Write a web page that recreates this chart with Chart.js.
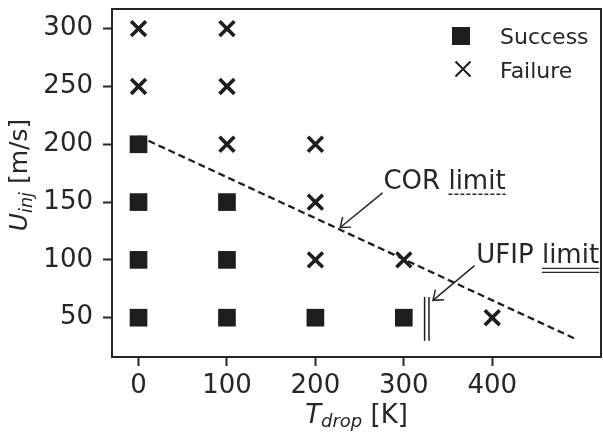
<!DOCTYPE html>
<html><head><meta charset="utf-8">
<script src="https://cdn.jsdelivr.net/npm/chart.js@4/dist/chart.umd.min.js"></script>
<style>html,body{margin:0;padding:0;background:#fff}#wrap{width:603px;height:432px;position:relative}</style>
</head><body><div id="wrap"><canvas id="c" width="603" height="432"></canvas></div>
<script>
// ---- data ----
const xTicks = [0, 100, 200, 300, 400];
const yTicks = [50, 100, 150, 200, 250, 300];
const successT = [0, 0, 0, 0, 100, 100, 100, 200, 300];
const successU = [200, 150, 100, 50, 150, 100, 50, 50, 50];
const failureT = [0, 0, 100, 100, 100, 200, 200, 200, 300, 400];
const failureU = [300, 250, 300, 250, 200, 200, 150, 100, 100, 50];
const corLimitT = [0, 496];
const corLimitU = [207, 31];
const ufipLimitT = [323.5, 328.5];
const ufipLimitU = [30, 68];
const corArrowT = [276, 228];
const corArrowU = [158, 128];
const ufipArrowT = [380, 333];
const ufipArrowU = [95, 65];
const corLabelAt = [277, 161];
const ufipLabelAt = [382, 97];
const legendLabels = ['Success', 'Failure'];

const INK = '#1e1e1e';
const TXT = '#262626';
const FF = "'DejaVu Sans'";
const zip = (xs, ys) => xs.map((x, i) => ({x: x, y: ys[i]}));

function arrow(ctx, x0, y0, x1, y1) {
  ctx.beginPath(); ctx.moveTo(x0, y0); ctx.lineTo(x1, y1); ctx.stroke();
  const a = Math.atan2(y0 - y1, x0 - x1), L = 11, h = 0.65;
  ctx.beginPath();
  ctx.moveTo(x1 + L * Math.cos(a - h), y1 + L * Math.sin(a - h));
  ctx.lineTo(x1, y1);
  ctx.lineTo(x1 + L * Math.cos(a + h), y1 + L * Math.sin(a + h));
  ctx.stroke();
}

const decor = {
  id: 'decor',
  afterDatasetsDraw(chart) {
    const ctx = chart.ctx, ca = chart.chartArea;
    const xs = chart.scales.x, ys = chart.scales.y;
    ctx.save();
    // frame
    ctx.strokeStyle = TXT; ctx.lineWidth = 2;
    ctx.strokeRect(ca.left, ca.top, ca.right - ca.left, ca.bottom - ca.top);

    // legend
    ctx.fillStyle = INK;
    ctx.fillRect(ca.right - 149, 27, 18, 18);
    ctx.strokeStyle = INK; ctx.lineWidth = 2;
    ctx.beginPath();
    ctx.moveTo(ca.right - 145.5, 61.5); ctx.lineTo(ca.right - 130.5, 76.5);
    ctx.moveTo(ca.right - 130.5, 61.5); ctx.lineTo(ca.right - 145.5, 76.5);
    ctx.stroke();
    ctx.fillStyle = TXT; ctx.font = '22px ' + FF; ctx.textAlign = 'left'; ctx.textBaseline = 'alphabetic';
    ctx.fillText(legendLabels[0], ca.right - 101, 43.5);
    ctx.fillText(legendLabels[1], ca.right - 101, 77.5);

    // annotations
    ctx.font = '26px ' + FF;
    ctx.strokeStyle = TXT; ctx.lineWidth = 1.5;
    // COR
    let tx = xs.getPixelForValue(corLabelAt[0]), ty = ys.getPixelForValue(corLabelAt[1]);
    ctx.fillText('COR limit', tx, ty);
    let w0 = ctx.measureText('COR ').width, w1 = ctx.measureText('COR limit').width;
    ctx.setLineDash([4, 2]);
    ctx.beginPath(); ctx.moveTo(tx + w0, ty + 5); ctx.lineTo(tx + w1, ty + 5); ctx.stroke();
    ctx.setLineDash([]);
    arrow(ctx, xs.getPixelForValue(corArrowT[0]), ys.getPixelForValue(corArrowU[0]),
               xs.getPixelForValue(corArrowT[1]), ys.getPixelForValue(corArrowU[1]));
    // UFIP
    tx = xs.getPixelForValue(ufipLabelAt[0]); ty = ys.getPixelForValue(ufipLabelAt[1]);
    ctx.fillText('UFIP limit', tx, ty);
    w0 = ctx.measureText('UFIP ').width; w1 = ctx.measureText('UFIP limit').width;
    ctx.lineWidth = 1.2;
    ctx.beginPath();
    ctx.moveTo(tx + w0, ty + 5); ctx.lineTo(tx + w1, ty + 5);
    ctx.moveTo(tx + w0, ty + 9); ctx.lineTo(tx + w1, ty + 9);
    ctx.stroke();
    ctx.lineWidth = 1.5;
    arrow(ctx, xs.getPixelForValue(ufipArrowT[0]), ys.getPixelForValue(ufipArrowU[0]),
               xs.getPixelForValue(ufipArrowT[1]), ys.getPixelForValue(ufipArrowU[1]));

    // x title: T_drop [K]
    const parts = [['italic 26px ' + FF, 'T', 0], ['italic 18px ' + FF, 'drop', 4], ['26px ' + FF, ' [K]', 0]];
    let tot = 0;
    parts.forEach(p => { ctx.font = p[0]; tot += ctx.measureText(p[1]).width; });
    let px = (ca.left + ca.right) / 2 - tot / 2;
    parts.forEach(p => { ctx.font = p[0]; ctx.fillText(p[1], px, 423 + p[2]); px += ctx.measureText(p[1]).width; });

    // y title: U_inj [m/s]
    const yparts = [['italic 25px ' + FF, 'U', 0], ['italic 17.5px ' + FF, 'inj', 5], ['25px ' + FF, ' [m/s]', 0]];
    tot = 0;
    yparts.forEach(p => { ctx.font = p[0]; tot += ctx.measureText(p[1]).width; });
    ctx.translate(26.5, 175 + tot / 2);
    ctx.rotate(-Math.PI / 2);
    px = 0;
    yparts.forEach(p => { ctx.font = p[0]; ctx.fillText(p[1], px, p[2]); px += ctx.measureText(p[1]).width; });
    ctx.restore();
  }
};

Chart.defaults.font.family = FF;
new Chart(document.getElementById('c'), {
  type: 'scatter',
  data: {
    datasets: [
      { label: 'Success', data: zip(successT, successU), pointStyle: 'rect', pointRadius: 12.5, pointHoverRadius: 12.5,
        backgroundColor: INK, borderColor: INK, borderWidth: 0, order: 1 },
      { label: 'Failure', data: zip(failureT, failureU), pointStyle: 'crossRot', pointRadius: 10.5, pointHoverRadius: 10.5,
        backgroundColor: INK, borderColor: INK, borderWidth: 3.6, order: 1 },
      { label: 'COR limit', data: zip(corLimitT, corLimitU), showLine: true, pointRadius: 0, borderColor: INK,
        borderWidth: 2.3, borderDash: [7, 4], order: 3 },
      { label: 'UFIP limit a', data: zip([ufipLimitT[0], ufipLimitT[0]], ufipLimitU), showLine: true, pointRadius: 0,
        borderColor: INK, borderWidth: 1.5, order: 2 },
      { label: 'UFIP limit b', data: zip([ufipLimitT[1], ufipLimitT[1]], ufipLimitU), showLine: true, pointRadius: 0,
        borderColor: INK, borderWidth: 1.5, order: 2 }
    ]
  },
  options: {
    responsive: false, devicePixelRatio: 1, animation: false,
    layout: { autoPadding: false, padding: { left: 0, top: 9, right: 2, bottom: 0 } },
    plugins: { legend: { display: false }, tooltip: { enabled: false } },
    scales: {
      x: {
        type: 'linear', min: -30, max: 523,
        afterBuildTicks: s => { s.ticks = xTicks.map(v => ({ value: v })); },
        afterFit: s => { s.height = 75; s.paddingLeft = 0; s.paddingRight = 0; },
        ticks: { font: { size: 26 }, color: TXT, padding: 5, maxRotation: 0, autoSkip: false },
        grid: { drawOnChartArea: false, drawTicks: true, tickLength: 9, tickWidth: 2, tickColor: TXT },
        border: { display: true, width: 2, color: TXT }
      },
      y: {
        type: 'linear', min: 16, max: 317,
        afterBuildTicks: s => { s.ticks = yTicks.map(v => ({ value: v })); },
        afterFit: s => { s.width = 112; s.paddingTop = 0; s.paddingBottom = 0; },
        ticks: { font: { size: 26 }, color: TXT, padding: 10, autoSkip: false },
        grid: { drawOnChartArea: false, drawTicks: true, tickLength: 9, tickWidth: 2, tickColor: TXT },
        border: { display: true, width: 2, color: TXT }
      }
    }
  },
  plugins: [decor]
});
</script></body></html>
